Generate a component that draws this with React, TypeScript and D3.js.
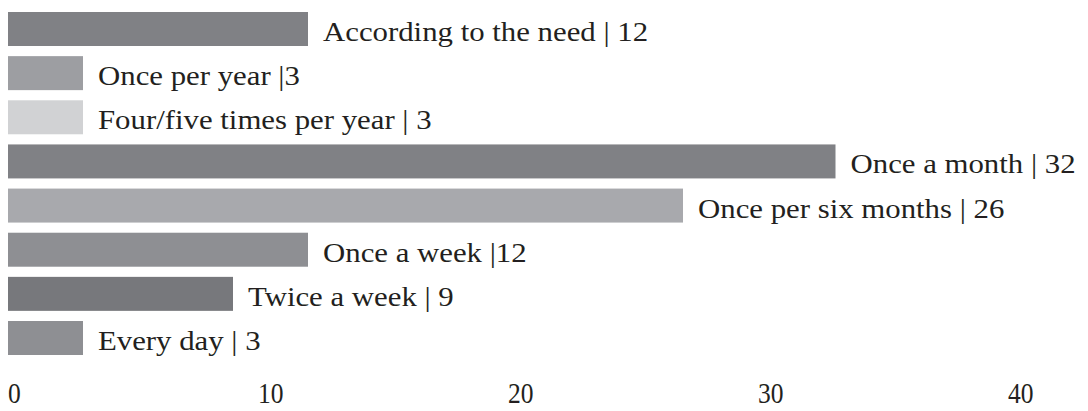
import * as d3 from "d3";

const WIDTH = 1088;
const HEIGHT = 411;

const categories = [
  "According to the need | 12",
  "Once per year |3",
  "Four/five times per year | 3",
  "Once a month | 32",
  "Once per six months | 26",
  "Once a week |12",
  "Twice a week | 9",
  "Every day | 3",
];
// bar lengths as drawn in the picture
const values = [12, 3, 3, 33.1, 27, 12, 9, 3];
const barColors = [
  "#808185",
  "#9d9ea2",
  "#d1d2d4",
  "#808185",
  "#a8a9ad",
  "#8e8f93",
  "#77787c",
  "#8e8f93",
];
const ticks = [0, 10, 20, 30, 40];

const FONT = "'Liberation Serif', 'DejaVu Serif', serif";
const TEXT = "#231f20";

export default function App() {
  const xScale = d3.scaleLinear().domain([0, 40]).range([8, 1008]);
  const yScale = d3
    .scaleBand<string>()
    .domain(categories)
    .range([12, 355])
    .paddingInner(0.23)
    .paddingOuter(0);

  return (
    <svg
      width={WIDTH}
      height={HEIGHT}
      style={{ position: "absolute", left: 0, top: 0 }}
    >
      <rect width={WIDTH} height={HEIGHT} fill="#ffffff" />
      {categories.map((c, i) => {
        const y = yScale(c) ?? 0;
        const end = xScale(values[i]);
        const tx = end + 15;
        const ty = y + yScale.bandwidth() / 2 + 12;
        return (
          <g key={c}>
            <rect
              x={xScale(0)}
              y={y}
              width={end - xScale(0)}
              height={yScale.bandwidth()}
              fill={barColors[i]}
            />
            <text
              transform={`translate(${tx},${ty}) scale(1.1,1)`}
              fontFamily={FONT}
              fontSize={28}
              fill={TEXT}
            >
              {c}
            </text>
          </g>
        );
      })}
      {ticks.map((t) => (
        <text
          key={t}
          transform={`translate(${xScale(t)},403) scale(0.88,1)`}
          fontFamily={FONT}
          fontSize={29}
          fill={TEXT}
        >
          {t}
        </text>
      ))}
    </svg>
  );
}
